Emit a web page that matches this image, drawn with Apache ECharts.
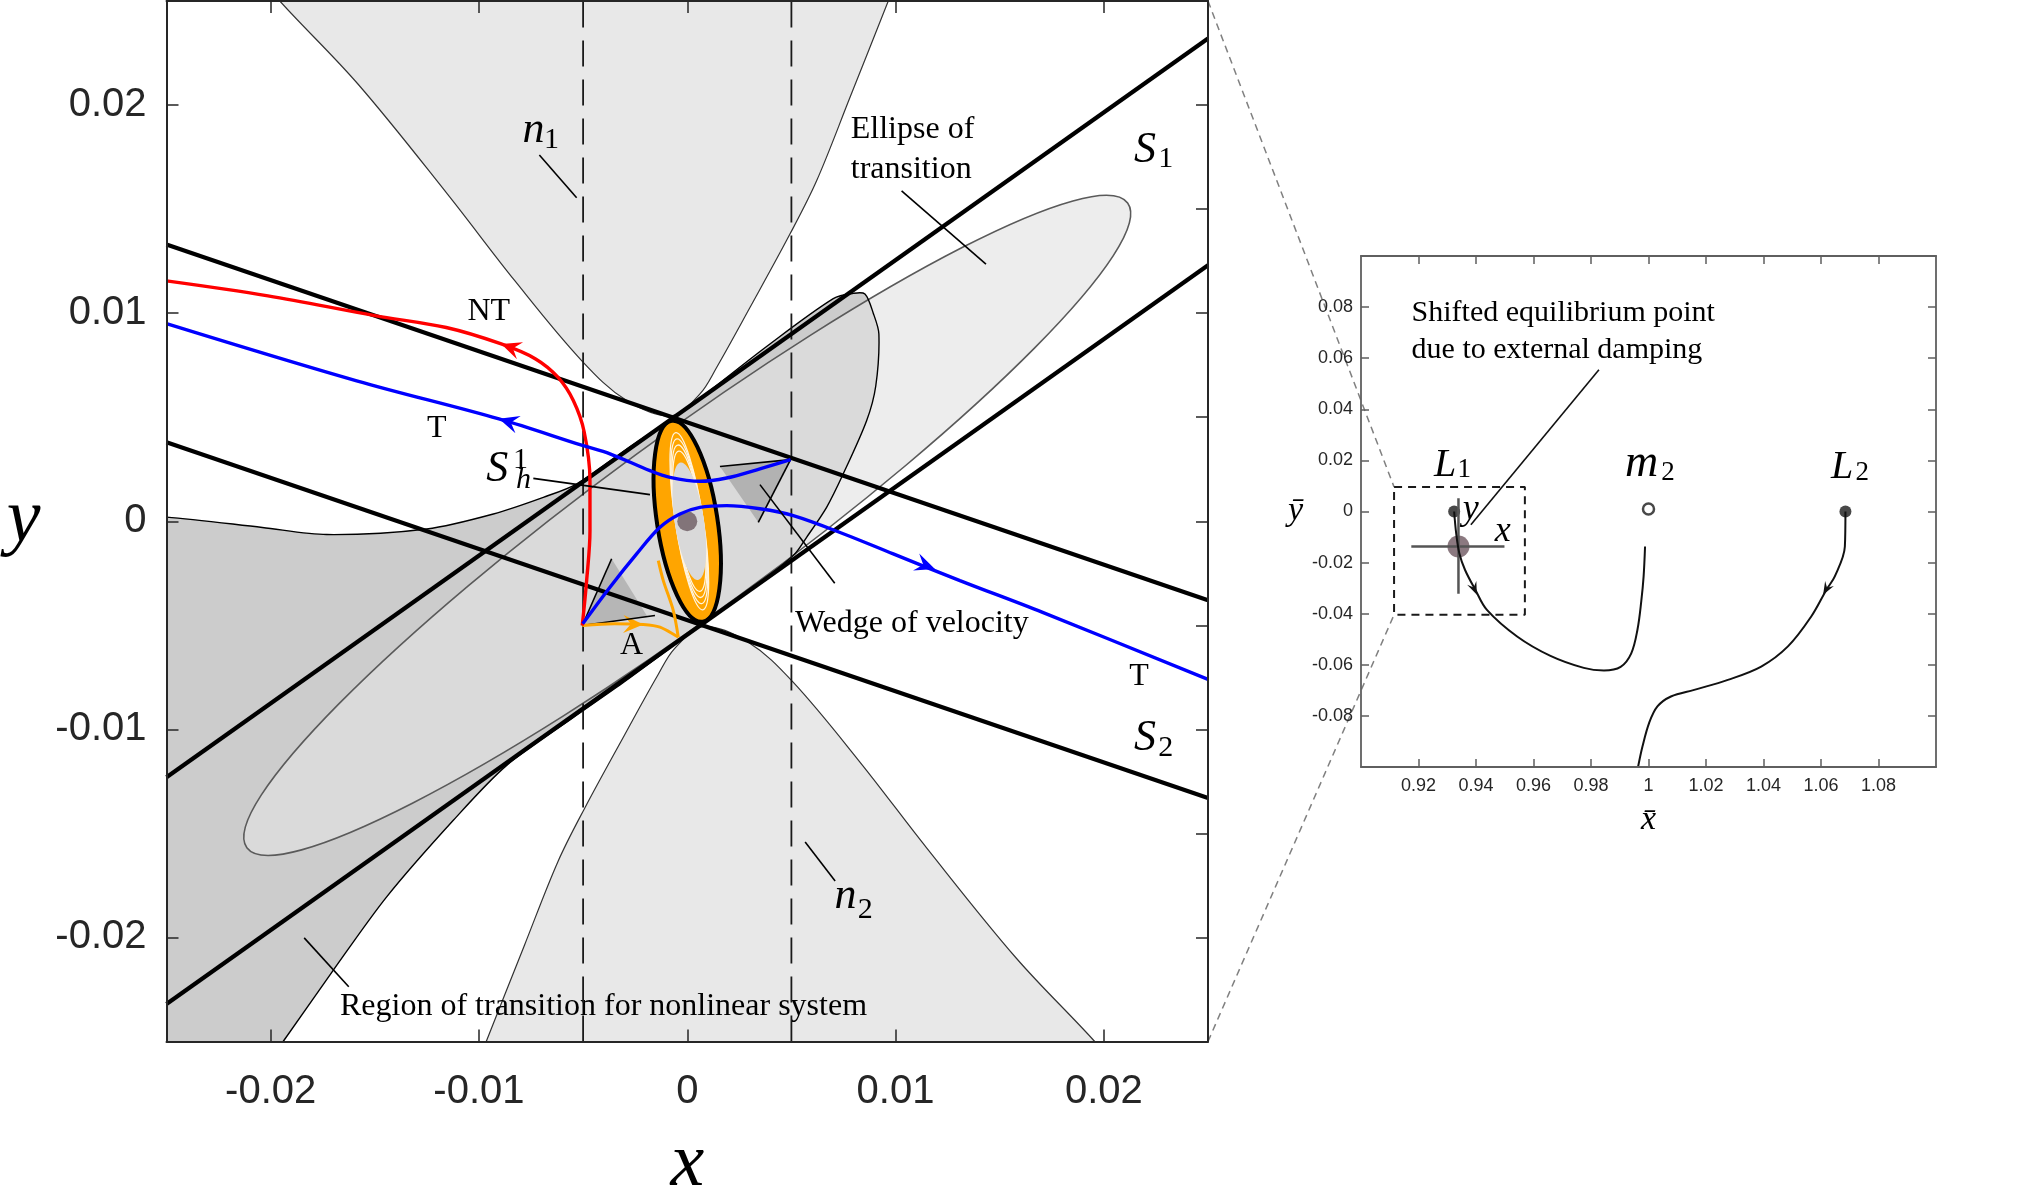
<!DOCTYPE html>
<html>
<head>
<meta charset="utf-8">
<script src="https://cdn.jsdelivr.net/npm/echarts@6/dist/echarts.min.js"></script>
<style>
  html, body { margin: 0; padding: 0; background: #fff; }
  #chart { width: 2042px; height: 1187px; }
</style>
</head>
<body>
<div id="chart"></div>
<script>
// ---- values ----
// main panel, x / y units
var xTicks = [-0.02, -0.01, 0, 0.01, 0.02];
var yTicks = [-0.02, -0.01, 0, 0.01, 0.02];
var yTicksRight = [-0.02, -0.015, -0.01, -0.005, 0, 0.005, 0.01, 0.015, 0.02];

var s1Upper = [[-0.025, -0.0123], [0.025, 0.0232]];
var s1Lower = [[-0.025, -0.0232], [0.025, 0.0123]];
var s2Upper = [[-0.025, 0.0133], [0.025, -0.0038]];
var s2Lower = [[-0.025, 0.0038], [0.025, -0.0133]];
var dashLeft = [[-0.005, -0.025], [-0.005, 0.025]];
var dashRight = [[0.005, -0.025], [0.005, 0.025]];

var n1Region = [[-0.0205, 0.03], [-0.0205, 0.0262], [-0.01956, 0.025], [-0.0158, 0.021], [-0.01151, 0.01572],
  [-0.00828, 0.01156], [-0.00506, 0.00771], [-0.00291, 0.0058], [-0.00076, 0.00507], [0.00061, 0.00612],
  [0.00141, 0.00739], [0.00301, 0.01027], [0.00493, 0.0138], [0.00621, 0.01636], [0.00781, 0.02036],
  [0.00965, 0.025], [0.0101, 0.0262], [0.0101, 0.03]];
var n2Region = [[-0.0101, -0.03], [-0.0101, -0.0262], [-0.00965, -0.025], [-0.00781, -0.02036], [-0.00621, -0.01636],
  [-0.00493, -0.0138], [-0.00301, -0.01027], [-0.00141, -0.00739], [-0.00061, -0.00612], [0.00076, -0.00507],
  [0.00291, -0.0058], [0.00506, -0.00771], [0.00828, -0.01156], [0.01151, -0.01572], [0.0158, -0.021],
  [0.01956, -0.025], [0.0205, -0.0262], [0.0205, -0.03]];
var nonlinearRegion = [[-0.03, 0.0004], [-0.025, 0.0002], [-0.0204, -0.0003], [-0.01731, -0.00064], [-0.01251, -0.00037],
  [-0.00931, 0.00035], [-0.00691, 0.00115], [-0.0053, 0.0018], [-0.003, 0.0034], [-0.00065, 0.005], [0.0006, 0.0059],
  [0.00381, 0.0084], [0.00701, 0.0107], [0.00797, 0.01095], [0.00853, 0.01092], [0.00893, 0.01], [0.0092, 0.009],
  [0.00905, 0.0065], [0.00861, 0.00483], [0.00749, 0.00228], [0.00669, 0.00067], [0.00573, -0.00077],
  [0.00509, -0.00165], [0.003, -0.0033], [0.00065, -0.005], [-0.003, -0.0077], [-0.0055, -0.00945],
  [-0.00867, -0.01173], [-0.01123, -0.01437], [-0.01443, -0.01805], [-0.01699, -0.02157], [-0.0194, -0.025],
  [-0.0209, -0.0271], [-0.03, -0.03]];

// ellipses: [cx, cy, semi-major, semi-minor, angle in degrees]
var transitionEllipse = [0, -0.0002, 0.0262, 0.0042, 36.2];
var orbitOuter = [0, 0, 0.00488, 0.00145, 98.8];
var orbitInner = [0.0001, 0, 0.00285, 0.0007, 98.5];
// thin light gaps between the spiral turns near both ends of the orbit
var orbitGaps = [
  [0.0001, 0, 0.0034, 0.00062, 98.6], [0.0001, 0, 0.0037, 0.00064, 98.6],
  [0.0001, 0, 0.0040, 0.00066, 98.6], [0.0001, 0, 0.0043, 0.00067, 98.7]
];
var centerDot = [[0, 0]];

var wedgeLow = [[-0.00504, -0.00501], [-0.00363, -0.0018], [-0.0019, -0.0046]];
var wedgeLowEdges = [[[-0.00504, -0.00501], [-0.00363, -0.0018]], [[-0.00504, -0.00501], [-0.00155, -0.00453]]];
var wedgeHigh = [[0.00496, 0.00296], [0.00157, 0.00263], [0.00341, -0.00005]];
var wedgeHighEdges = [[[0.00157, 0.00263], [0.00496, 0.00296]], [[0.00496, 0.00296], [0.00341, -0.00005]]];

var redNT = [[-0.025, 0.01155], [-0.02013, 0.01083], [-0.015, 0.00988], [-0.01157, 0.00931], [-0.00893, 0.00852],
  [-0.00728, 0.0078], [-0.0062, 0.00691], [-0.00547, 0.0058], [-0.00495, 0.0043], [-0.00467, 0.00195],
  [-0.00467, -0.00045], [-0.00483, -0.00285], [-0.00504, -0.00501]];
var blueUpper = [[-0.025, 0.0095], [-0.01587, 0.00675], [-0.00904, 0.00492], [-0.00499, 0.00363], [-0.00371, 0.00324],
  [-0.00179, 0.00243], [-0.00083, 0.00211], [0.00061, 0.00192], [0.00189, 0.00208], [0.00349, 0.00252],
  [0.00496, 0.00296]];
var blueLower = [[-0.00502, -0.00493], [-0.00371, -0.00317], [-0.00243, -0.00157], [-0.00131, -0.00029],
  [-0.00035, 0.00035], [0.00061, 0.00067], [0.00189, 0.00075], [0.00349, 0.0006], [0.00509, 0.00027],
  [0.00749, -0.0006], [0.00989, -0.00157], [0.01309, -0.00285], [0.01706, -0.00438], [0.025, -0.0076]];
var orangeA1 = [[-0.00504, -0.00501], [-0.0035, -0.00492], [-0.00211, -0.00496], [-0.00131, -0.00509], [-0.00043, -0.00557]];
var orangeA2 = [[-0.00043, -0.00557], [-0.00067, -0.00429], [-0.00115, -0.00285], [-0.00139, -0.00189]];

// arrows: [tailX, tailY, headX, headY]
var redArrows = [[-0.0075, 0.0080, -0.00893, 0.00852]];
var blueArrows = [[-0.0075, 0.00445, -0.00904, 0.00492], [0.0100, -0.0016, 0.01189, -0.00229]];
var orangeArrows = [[-0.0035, -0.00492, -0.00211, -0.00496]];

var leadersMain = [
  [[-0.0071, 0.0176], [-0.00531, 0.01555]],
  [[0.01029, 0.01588], [0.01434, 0.01236]],
  [[-0.00739, 0.00206], [-0.00179, 0.00128]],
  [[0.00349, 0.00176], [0.00708, -0.00298]],
  [[0.00566, -0.01541], [0.0071, -0.01729]],
  [[-0.01839, -0.02002], [-0.01625, -0.02237]]
];

// [text, x, y, kind]
var mainNotes = [
  ['NT', -0.00953, 0.01008, 'note'], ['T', -0.01203, 0.00445, 'note'], ['T', 0.02169, -0.00746, 'note'],
  ['A', -0.00267, -0.00597, 'note'],
  ['Ellipse of', 0.00785, 0.01884, 'noteL'], ['transition', 0.00785, 0.01692, 'noteL'],
  ['Wedge of velocity', 0.00517, -0.00491, 'noteL'],
  ['Region of transition for nonlinear system', -0.01667, -0.02333, 'noteL'],
  ['S', 0.02198, 0.01784, 'sym'], ['1', 0.02297, 0.0174, 'idx'],
  ['S', 0.02198, -0.01046, 'sym'], ['2', 0.02297, -0.0109, 'idx'],
  ['n', -0.00738, 0.0188, 'sym'], ['1', -0.00652, 0.01831, 'idx'],
  ['n', 0.0076, -0.01803, 'sym'], ['2', 0.00854, -0.01867, 'idx'],
  ['S', -0.00912, 0.00251, 'sym'], ['1', -0.00800, 0.00296, 'idx'], ['h', -0.00786, 0.00196, 'idxI']
];

// inset panel, x-bar / y-bar units
var insetXTicks = [0.92, 0.94, 0.96, 0.98, 1, 1.02, 1.04, 1.06, 1.08];
var insetYTicks = [-0.08, -0.06, -0.04, -0.02, 0, 0.02, 0.04, 0.06, 0.08];

var l1Path = [[0.9324, 0], [0.9331, -0.0085], [0.9342, -0.0163], [0.9362, -0.0229], [0.9398, -0.0307],
  [0.9438, -0.0385], [0.9543, -0.0489], [0.9659, -0.0565], [0.9775, -0.0612], [0.9845, -0.0622],
  [0.9903, -0.0608], [0.994, -0.0555], [0.9962, -0.046], [0.9975, -0.035], [0.9983, -0.0254], [0.9988, -0.0137]];
var l2Path = [[1.0685, 0], [1.0683, -0.0137], [1.0648, -0.0254], [1.0619, -0.0306], [1.0566, -0.0411],
  [1.0485, -0.0528], [1.0392, -0.0607], [1.0276, -0.0659], [1.0159, -0.0698], [1.0078, -0.0724],
  [1.0031, -0.0763], [1.0002, -0.0828], [0.9979, -0.092], [0.9964, -0.0998]];
var lagrangePoints = [[0.9324, 0], [1.0685, 0]];
var m2Point = [[1.0, 0.001]];
var shiftedPoint = [[0.9339, -0.0137]];
var crossH = [[0.9175, -0.0137], [0.9499, -0.0137]];
var crossV = [[0.9339, 0.0052], [0.9339, -0.0322]];
var zoomBox = [[0.9115, 0.0096], [0.957, 0.0096], [0.957, -0.0404], [0.9115, -0.0404], [0.9115, 0.0096]];
var insetLeader = [[0.98276, 0.05546], [0.93822, -0.0052]];
var insetArrows = [[0.9372, -0.0245, 0.94031, -0.0326], [1.0648, -0.0245, 1.06073, -0.0326]];
var insetNotes = [
  ['Shifted equilibrium point', 0.9176, 0.0777, 'inote'], ['due to external damping', 0.9176, 0.0633, 'inote'],
  ['L', 0.92925, 0.0179, 'isym'], ['1', 0.93588, 0.0163, 'iidx'],
  ['m', 0.99756, 0.0185, 'isymW'], ['2', 1.0068, 0.015, 'iidx'],
  ['L', 1.06736, 0.01737, 'isym'], ['2', 1.07434, 0.015, 'iidx'],
  ['y', 0.9382, 0.0006, 'ivar'], ['x', 0.94929, -0.0078, 'ivar']
];

// ---- drawing ----
var SERIF = '"Liberation Serif", "Times New Roman", serif';
var SANS = '"Liberation Sans", Arial, sans-serif';
var M = { xAxisIndex: 0, yAxisIndex: 0 };
var I = { xAxisIndex: 2, yAxisIndex: 2 };

var textKinds = {
  note: { font: '32px ' + SERIF, align: 'center' },
  noteL: { font: '32px ' + SERIF, align: 'left' },
  sym: { font: 'italic 44px ' + SERIF, align: 'center' },
  idx: { font: '30px ' + SERIF, align: 'center' },
  idxI: { font: 'italic 30px ' + SERIF, align: 'center' },
  inote: { font: '30px ' + SERIF, align: 'left' },
  isym: { font: 'italic 40px ' + SERIF, align: 'center' },
  isymW: { font: 'italic 46px ' + SERIF, align: 'center' },
  iidx: { font: '27px ' + SERIF, align: 'center' },
  ivar: { font: 'italic 36px ' + SERIF, align: 'center' }
};

function fmt(v) { return String(+(+v).toFixed(3)); }

function poly(axes, pts, style, smooth) {
  return Object.assign({
    type: 'custom', clip: true, silent: true, data: [pts[0]],
    renderItem: function (p, api) {
      return { type: 'polygon', shape: { points: pts.map(function (q) { return api.coord(q); }), smooth: smooth || 0 }, style: style };
    }
  }, axes);
}

// one ellipse per data row [cx, cy, a, b, angle]
function ellipses(axes, list, style) {
  return Object.assign({
    type: 'custom', clip: true, silent: true, data: list,
    renderItem: function (p, api) {
      var c = api.coord([api.value(0), api.value(1)]);
      return {
        type: 'ellipse', x: c[0], y: c[1], rotation: api.value(4) * Math.PI / 180,
        shape: { cx: 0, cy: 0, rx: api.size([api.value(2), 0])[0], ry: api.size([api.value(3), 0])[0] },
        style: style
      };
    }
  }, axes);
}

function line(axes, pts, color, width, extra) {
  return Object.assign({
    type: 'line', data: pts, showSymbol: false, symbol: 'none', silent: true, clip: true,
    lineStyle: Object.assign({ color: color, width: width }, (extra && extra.lineStyle) || {}),
    smooth: (extra && extra.smooth) || false
  }, axes);
}

function arrows(axes, list, color, len, half) {
  return Object.assign({
    type: 'custom', clip: true, silent: true, data: list,
    renderItem: function (p, api) {
      var a = api.coord([api.value(0), api.value(1)]);
      var b = api.coord([api.value(2), api.value(3)]);
      var ang = Math.atan2(b[1] - a[1], b[0] - a[0]);
      var c = Math.cos(ang), s = Math.sin(ang);
      function pt(u, v) { return [b[0] + u * c - v * s, b[1] + u * s + v * c]; }
      return { type: 'polygon', shape: { points: [pt(0, 0), pt(-len, half), pt(-0.62 * len, 0), pt(-len, -half)] }, style: { fill: color } };
    }
  }, axes);
}

function texts(axes, list) {
  return Object.assign({
    type: 'custom', clip: false, silent: true,
    data: list.map(function (t) { return [t[1], t[2]]; }),
    renderItem: function (p, api) {
      var t = list[p.dataIndex];
      var k = textKinds[t[3]];
      var c = api.coord([t[1], t[2]]);
      return {
        type: 'text', x: c[0], y: c[1],
        style: { text: t[0], font: k.font, fill: '#000', align: k.align, verticalAlign: 'middle', textAlign: k.align, textVerticalAlign: 'middle' }
      };
    }
  }, axes);
}

function valueAxis(gridIndex, position, min, max, ticks, opts) {
  var dark = gridIndex === 0 ? '#262626' : '#5f5f5f';
  var base = {
    type: 'value', gridIndex: gridIndex, position: position, min: min, max: max, z: 10,
    axisLine: { show: true, onZero: false, lineStyle: { color: dark, width: gridIndex === 0 ? 2 : 1.8 } },
    axisTick: { show: true, inside: true, length: gridIndex === 0 ? 12 : 8, customValues: ticks, lineStyle: { color: dark, width: 1.5 } },
    axisLabel: { show: false },
    splitLine: { show: false }
  };
  return echarts.util.merge(base, opts || {}, true);
}

var mainLabel = { show: true, customValues: null, formatter: fmt, fontFamily: SANS, fontSize: 40, color: '#262626' };
var insetLabel = { show: true, customValues: null, formatter: fmt, fontFamily: SANS, fontSize: 18, color: '#262626' };

var option = {
  animation: false,
  backgroundColor: '#ffffff',
  grid: [
    { left: 166.5, top: 1, width: 1041.5, height: 1040.5, containLabel: false, outerBoundsMode: 'none' },
    { left: 1361, top: 256, width: 575, height: 511, containLabel: false, outerBoundsMode: 'none' }
  ],
  xAxis: [
    valueAxis(0, 'bottom', -0.025, 0.025, xTicks, {
      axisLabel: Object.assign({}, mainLabel, { customValues: xTicks, margin: 30 }),
      name: 'x', nameLocation: 'middle', nameGap: 86,
      nameTextStyle: { fontFamily: SERIF, fontStyle: 'italic', fontSize: 76, color: '#000' }
    }),
    valueAxis(0, 'top', -0.025, 0.025, xTicks),
    valueAxis(1, 'bottom', 0.9, 1.1, insetXTicks, {
      axisLabel: Object.assign({}, insetLabel, { customValues: insetXTicks, margin: 10 }),
      name: 'x\u0304', nameLocation: 'middle', nameGap: 36,
      nameTextStyle: { fontFamily: SERIF, fontStyle: 'italic', fontSize: 34, color: '#000' }
    }),
    valueAxis(1, 'top', 0.9, 1.1, insetXTicks)
  ],
  yAxis: [
    valueAxis(0, 'left', -0.025, 0.025, yTicks, {
      axisLabel: Object.assign({}, mainLabel, { customValues: yTicks, margin: 20 }),
      name: 'y', nameLocation: 'middle', nameGap: 126, nameRotate: 0,
      nameTextStyle: { fontFamily: SERIF, fontStyle: 'italic', fontSize: 76, color: '#000' }
    }),
    valueAxis(0, 'right', -0.025, 0.025, yTicksRight),
    valueAxis(1, 'left', -0.1, 0.1, insetYTicks, {
      axisLabel: Object.assign({}, insetLabel, { customValues: insetYTicks, margin: 8 }),
      name: 'y\u0304', nameLocation: 'middle', nameGap: 58, nameRotate: 0,
      nameTextStyle: { fontFamily: SERIF, fontStyle: 'italic', fontSize: 34, color: '#000' }
    }),
    valueAxis(1, 'right', -0.1, 0.1, insetYTicks)
  ],
  series: [
    poly(M, n1Region, { fill: '#e8e8e8', stroke: '#333', lineWidth: 1.2 }, 0.35),
    poly(M, n2Region, { fill: '#e8e8e8', stroke: '#333', lineWidth: 1.2 }, 0.35),
    poly(M, nonlinearRegion, { fill: '#cccccc', stroke: 'none' }, 0.3),
    ellipses(M, [transitionEllipse], { fill: 'rgba(226,226,226,0.63)', stroke: '#5a5a5a', lineWidth: 1.6 }),
    poly(M, nonlinearRegion, { fill: 'none', stroke: '#000', lineWidth: 1.4 }, 0.3),
    line(M, dashLeft, '#1a1a1a', 1.8, { lineStyle: { type: [26, 13] } }),
    line(M, dashRight, '#1a1a1a', 1.8, { lineStyle: { type: [26, 13] } }),
    line(M, s1Upper, '#000', 4.2),
    line(M, s1Lower, '#000', 4.2),
    line(M, s2Upper, '#000', 4.2),
    line(M, s2Lower, '#000', 4.2),
    poly(M, wedgeLow, { fill: '#b6b6b6', stroke: 'none' }),
    poly(M, wedgeHigh, { fill: '#b2b2b2', stroke: 'none' }),
    line(M, wedgeLowEdges[0], '#000', 1.6), line(M, wedgeLowEdges[1], '#000', 1.6),
    line(M, wedgeHighEdges[0], '#000', 1.6), line(M, wedgeHighEdges[1], '#000', 1.6),
    ellipses(M, [orbitOuter], { fill: '#ffa500', stroke: 'none' }),
    ellipses(M, orbitGaps, { fill: 'none', stroke: '#fff4df', lineWidth: 1.3 }),
    ellipses(M, [orbitInner], { fill: '#d9d9d9', stroke: 'none' }),
    ellipses(M, [orbitOuter], { fill: 'none', stroke: '#000', lineWidth: 4 }),
    line(M, orangeA1, '#ffa500', 3, { smooth: 0.3 }),
    line(M, orangeA2, '#ffa500', 3, { smooth: 0.3 }),
    line(M, redNT, '#ff0000', 3.4, { smooth: 0.35 }),
    line(M, blueUpper, '#0000ff', 3.4, { smooth: 0.35 }),
    line(M, blueLower, '#0000ff', 3.4, { smooth: 0.35 }),
    arrows(M, redArrows, '#ff0000', 20, 9),
    arrows(M, blueArrows, '#0000ff', 20, 9),
    arrows(M, orangeArrows, '#ffa500', 20, 9),
    Object.assign({ type: 'scatter', data: centerDot, symbolSize: 20, silent: true, itemStyle: { color: '#6b5a60' } }, M)
  ].concat(leadersMain.map(function (seg) { return line(M, seg, '#000', 1.6); }))
   .concat([
    texts(M, mainNotes),
    // inset
    line(I, zoomBox, '#1a1a1a', 2, { lineStyle: { type: [8, 6] } }),
    line(I, crossH, '#555', 2.5),
    line(I, crossV, '#555', 2.5),
    line(I, l1Path, '#111', 2, { smooth: 0.35 }),
    line(I, l2Path, '#111', 2, { smooth: 0.35 }),
    line(I, insetLeader, '#111', 1.6),
    arrows(I, insetArrows, '#111', 13, 5),
    Object.assign({ type: 'scatter', data: lagrangePoints, symbolSize: 12, silent: true, itemStyle: { color: '#1a1a1a' } }, I),
    Object.assign({ type: 'scatter', data: m2Point, symbolSize: 11, silent: true, itemStyle: { color: '#fff', borderColor: '#1a1a1a', borderWidth: 2.5 } }, I),
    Object.assign({ type: 'scatter', data: shiftedPoint, symbolSize: 22, silent: true, itemStyle: { color: '#6e5860' } }, I),
    texts(I, insetNotes)
  ])
};

var chart = echarts.init(document.getElementById('chart'));
chart.setOption(option);

// dashed connectors between the main panel and the zoom box
var c1 = chart.convertToPixel({ xAxisIndex: 0, yAxisIndex: 0 }, [0.025, 0.025]);
var c2 = chart.convertToPixel({ xAxisIndex: 0, yAxisIndex: 0 }, [0.025, -0.025]);
var b1 = chart.convertToPixel({ xAxisIndex: 2, yAxisIndex: 2 }, zoomBox[0]);
var b2 = chart.convertToPixel({ xAxisIndex: 2, yAxisIndex: 2 }, zoomBox[3]);
chart.setOption({
  graphic: [
    { type: 'line', silent: true, shape: { x1: c1[0], y1: c1[1], x2: b1[0], y2: b1[1] }, style: { stroke: '#808080', lineWidth: 1.5, lineDash: [7, 5] } },
    { type: 'line', silent: true, shape: { x1: c2[0], y1: c2[1], x2: b2[0], y2: b2[1] }, style: { stroke: '#808080', lineWidth: 1.5, lineDash: [7, 5] } }
  ]
});
</script>
</body>
</html>
